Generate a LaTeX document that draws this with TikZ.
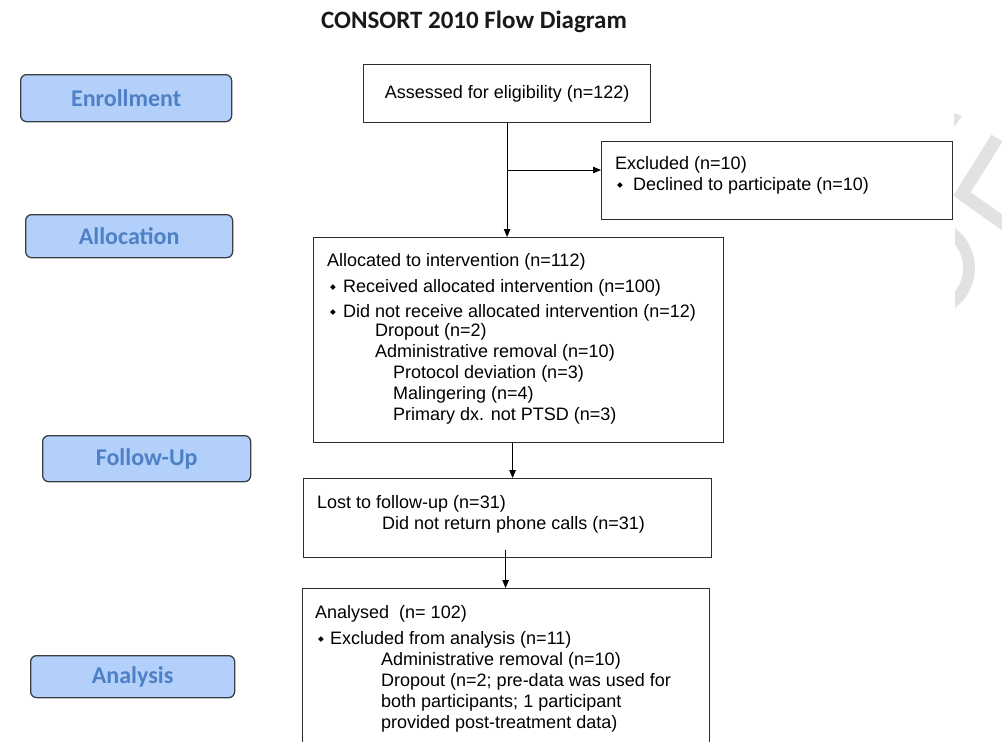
\documentclass[tikz,border=0pt]{standalone}
\usepackage{fontspec}
\setmainfont{Liberation Sans}
\newfontfamily\stagefont{Carlito}
\newfontfamily\symfont{DejaVu Sans}
\usetikzlibrary{arrows.meta,positioning}

\definecolor{stagefill}{RGB}{178,208,250}
\definecolor{stagetext}{RGB}{78,128,198}
\definecolor{stageline}{RGB}{60,62,70}
\definecolor{boxline}{RGB}{45,45,45}
\definecolor{wmgray}{RGB}{226,226,226}

% small diamond bullet in a fixed-width cell
\newcommand{\bul}[1]{\makebox[#1][l]{\raisebox{2.5pt}{\symfont\fontsize{7.5}{7.5}\selectfont ◆}}}

\begin{document}
\begin{tikzpicture}[x=1pt, y=-1pt,
    stagebox/.style={draw=stageline, line width=1.3pt, fill=stagefill,
        rounded corners=6pt, anchor=north west, inner sep=0pt,
        font=\stagefont\bfseries\fontsize{24}{24}\selectfont, text=stagetext},
    flowbox/.style={draw=boxline, line width=1.2pt, anchor=north west,
        inner sep=0pt, font=\fontsize{18}{21}\selectfont},
    boxtext/.style={anchor=north west, inner sep=0pt, align=left,
        font=\fontsize{18}{21}\selectfont},
    flowarrow/.style={-{Triangle[length=8pt,width=6.5pt]}, line width=0.9pt}]

    \useasboundingbox (0,0) rectangle (1002,742);
    \clip (0,0) rectangle (1002,742);

    % Watermark pieces on the right edge
    \fill[wmgray] (954,113) -- (962,116) -- (954,127) -- cycle;
    \draw[wmgray, line width=13pt, line join=miter] (997,138) -- (962,194) -- (1010,228);
    \begin{scope}
        \clip (955,200) rectangle (1002,330);
        \fill[wmgray, even odd rule] (925,268) circle (50pt) (925,268) circle (38pt);
    \end{scope}

    % Title
    \node[font=\stagefont\bfseries\fontsize{25}{25}\selectfont, text=black!90, inner sep=0pt]
        (title) at (474,22) {CONSORT 2010 Flow Diagram};

    % Stage labels
    \node[stagebox, minimum width=211pt, minimum height=47pt] (enroll) at (20,74) {Enrollment};
    \node[stagebox, minimum width=207pt, minimum height=43pt] (alloc) at (25,214) {Allocation};
    \node[stagebox, minimum width=208pt, minimum height=46pt] (follow) at (42,435) {Follow-Up};
    \node[stagebox, minimum width=204pt, minimum height=42pt] (analysis) at (30,655) {Analysis};

    % Flow boxes
    \node[flowbox, minimum width=287pt, minimum height=58pt] (assess) at (363,64)
        {Assessed for eligibility (n=122)};

    \node[flowbox, minimum width=351pt, minimum height=78pt] (excl) at (601,141) {};
    \node[boxtext] (excltxt) at (615,156)
        {Excluded (n=10)\\\hspace*{2pt}\bul{16pt}Declined to participate (n=10)};

    \node[flowbox, minimum width=410pt, minimum height=205pt] (allocated) at (313,237) {};
    \node[boxtext] (allocatedtxt) at (327,253)
        {Allocated to intervention (n=112)\\[5pt]
         \hspace*{3pt}\bul{13pt}Received allocated intervention (n=100)\\[4pt]
         \hspace*{3pt}\bul{13pt}Did not receive allocated intervention (n=12)\\[-2pt]
         \hspace*{48pt}Dropout (n=2)\\
         \hspace*{48pt}Administrative removal (n=10)\\
         \hspace*{66pt}Protocol deviation (n=3)\\
         \hspace*{66pt}Malingering (n=4)\\
         \hspace*{66pt}Primary dx. not PTSD (n=3)};

    \node[flowbox, minimum width=408pt, minimum height=79pt] (lost) at (303,478) {};
    \node[boxtext] (losttxt) at (317,495)
        {Lost to follow-up (n=31)\\
         \hspace*{65pt}Did not return phone calls (n=31)};

    \node[flowbox, minimum width=407pt, minimum height=180pt] (analysed) at (302,588) {};
    \node[boxtext] (analysedtxt) at (315,605)
        {Analysed\ \ (n= 102)\\[5pt]
         \hspace*{3pt}\bul{12pt}Excluded from analysis (n=11)\\
         \hspace*{66pt}Administrative removal (n=10)\\
         \hspace*{66pt}Dropout (n=2; pre-data was used for\\
         \hspace*{66pt}both participants; 1 participant\\
         \hspace*{66pt}provided post-treatment data)};

    % Arrows
    \coordinate (split) at (assess.south |- 0,170);
    \draw[flowarrow] (assess.south) -- (assess.south |- allocated.north);
    \draw[flowarrow] (split) -- (split -| excl.west);
    \draw[flowarrow] ([xshift=-6pt]allocated.south) -- ([xshift=-6pt]allocated.south |- lost.north);
    \draw[flowarrow] ([xshift=-2pt, yshift=8pt]lost.south) -- ([xshift=-2pt]lost.south |- analysed.north);

\end{tikzpicture}
\end{document}
